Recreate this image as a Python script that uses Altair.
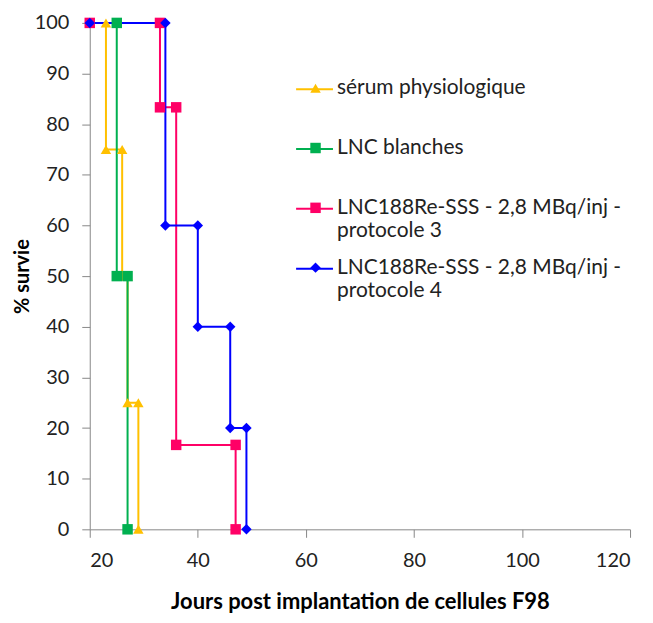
import altair as alt
import pandas as pd

series = [
    "sérum physiologique",
    "LNC blanches",
    "LNC188Re-SSS - 2,8 MBq/inj -\nprotocole 3",
    "LNC188Re-SSS - 2,8 MBq/inj -\nprotocole 4",
]
colors = ["#FFC000", "#00B050", "#FF0066", "#0000FF"]
shapes = ["triangle-up", "square", "square", "diamond"]

serum_x = [23, 23, 26, 26, 27, 27, 29, 29]
serum_y = [100, 75, 75, 50, 50, 25, 25, 0]
blanc_x = [25, 25, 27, 27]
blanc_y = [100, 50, 50, 0]
p3_x = [20, 33, 33, 36, 36, 47, 47]
p3_y = [100, 100, 83.33, 83.33, 16.67, 16.67, 0]
p4_x = [20, 34, 34, 40, 40, 46, 46, 49, 49]
p4_y = [100, 100, 60, 60, 40, 40, 20, 20, 0]

rows = []
for name, xs, ys in zip(series, [serum_x, blanc_x, p3_x, p4_x], [serum_y, blanc_y, p3_y, p4_y]):
    for i, (x, y) in enumerate(zip(xs, ys)):
        rows.append({"serie": name, "jours": x, "survie": y, "ordre": i})
df = pd.DataFrame(rows)

FONT = "Lato"
LABEL_EXPR = "[split(datum.label, '\\n')[0], split(datum.label, '\\n')[1] || '']"
BLANK_EXPR = "[' ', ' ']"
LEG_Y = 55
ROW_PAD = 15
LEG_FS = 21

x_enc = alt.X("jours:Q", scale=alt.Scale(domain=[20, 120], nice=False),
              axis=alt.Axis(values=[20, 40, 60, 80, 100, 120], title="Jours post implantation de cellules F98",
                            grid=False, domainColor="#888888", tickColor="#888888", tickSize=8,
                            labelFontSize=20, labelColor="#222222", labelPadding=13,
                            titleFontSize=22, titleFontWeight="bold", titleColor="#000000", titlePadding=21,
                            labelFont=FONT, titleFont=FONT))
y_enc = alt.Y("survie:Q", scale=alt.Scale(domain=[0, 100], nice=False),
              axis=alt.Axis(values=list(range(0, 101, 10)), title="% survie", grid=False,
                            domainColor="#888888", tickColor="#888888", tickSize=8,
                            labelFontSize=20, labelColor="#222222", labelPadding=13,
                            titleFontSize=20, titleFontWeight="bold", titleColor="#000000", titlePadding=2,
                            labelFont=FONT, titleFont=FONT))

lines = alt.Chart(df).mark_line(strokeWidth=2).encode(
    x=x_enc, y=y_enc,
    color=alt.Color("serie:N", scale=alt.Scale(domain=series, range=colors),
                    legend=alt.Legend(title=None, orient="none", legendX=206, legendY=LEG_Y - 8,
                                      symbolType="stroke", symbolSize=1369, symbolStrokeWidth=2,
                                      labelFontSize=LEG_FS, labelFont=FONT, labelColor="transparent",
                                      labelLimit=500, rowPadding=ROW_PAD - 8, labelBaseline="middle",
                                      labelExpr=BLANK_EXPR)),
    order="ordre:Q",
)

point_legend = alt.Legend(title=None, orient="none", legendX=216, legendY=LEG_Y,
                          symbolSize=110, symbolStrokeWidth=0, labelOffset=11,
                          labelFontSize=LEG_FS, labelFont=FONT, labelColor="#222222",
                          labelLimit=500, rowPadding=ROW_PAD, labelBaseline="middle",
                          labelExpr=LABEL_EXPR)

points = alt.Chart(df).mark_point(filled=True, size=110, opacity=1).encode(
    x="jours:Q", y="survie:Q",
    color=alt.Color("serie:N", scale=alt.Scale(domain=series, range=colors), legend=point_legend),
    shape=alt.Shape("serie:N", scale=alt.Scale(domain=series, range=shapes), legend=point_legend),
)

chart = alt.layer(lines, points).resolve_scale(
    color="independent", shape="independent"
).properties(
    width=542, height=508,
    autosize=alt.AutoSizeParams(type="none"),
    padding={"left": 82, "top": 14, "right": 15, "bottom": 85},
).configure_view(stroke=None)

chart.save("out.html", embed_options={"renderer": "svg", "actions": False})
